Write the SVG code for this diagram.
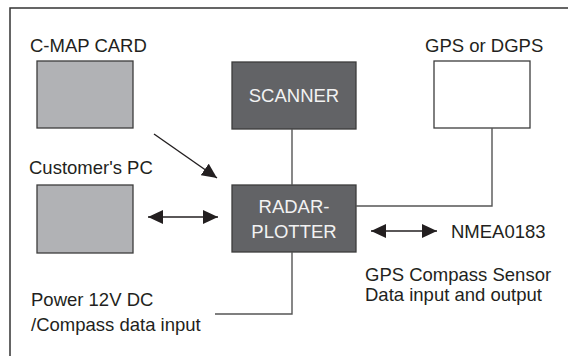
<svg xmlns="http://www.w3.org/2000/svg" width="568" height="356" viewBox="0 0 568 356">
<style>
text{font-family:"Liberation Sans",Arial,sans-serif;font-size:18.5px;fill:#231f20}
.lt{fill:#b1b2b5;stroke:#3c3c3c;stroke-width:1.3}
.dk{fill:#626366;stroke:#3c3c3c;stroke-width:1.3}
.wh{fill:#ffffff;stroke:#3c3c3c;stroke-width:1.3}
.wt{fill:#f2f2f2;text-anchor:middle}
.ln{fill:none;stroke:#555;stroke-width:1.4}
.ar{fill:none;stroke:#231f20;stroke-width:1.4}
</style>
<defs>
<marker id="ah" viewBox="0 0 15 14" refX="15" refY="7" markerWidth="15" markerHeight="14" markerUnits="userSpaceOnUse" orient="auto-start-reverse">
<path d="M0,0 L15,7 L0,14 Z" fill="#231f20"/>
</marker>
</defs>
<g id="frame"><path d="M10,356 V8 H568" fill="none" stroke="#333" stroke-width="1.5"/></g>
<g id="cmap"><rect class="lt" x="37" y="61" width="96" height="67"/><text x="30" y="52">C-MAP CARD</text></g>
<g id="scanner"><rect class="dk" x="232" y="62" width="124" height="67"/><text class="wt" x="294" y="102">SCANNER</text></g>
<g id="gps"><rect class="wh" x="434" y="61" width="96" height="67"/><text x="425" y="52">GPS or DGPS</text></g>
<g id="pc"><rect class="lt" x="37" y="185" width="96" height="68"/><text x="29" y="174">Customer's PC</text></g>
<g id="radar"><rect class="dk" x="232" y="185" width="124" height="67"/><text class="wt" x="294" y="213">RADAR-</text><text class="wt" x="294" y="238">PLOTTER</text></g>
<g id="nmea"><text x="451" y="238">NMEA0183</text></g>
<g id="sensor"><text x="365" y="281">GPS Compass Sensor</text><text x="365" y="301">Data input and output</text></g>
<g id="power"><text x="31" y="306">Power 12V DC</text><text x="31" y="331">/Compass data input</text></g>
<g id="connectors">
<path class="ln" d="M292,129 V185"/>
<path class="ln" d="M492,128 V206 H356"/>
<path class="ln" d="M292,252 V314 H215"/>
<path class="ar" d="M154,134 L217,178" marker-end="url(#ah)"/>
<path class="ar" d="M148,217 H218" marker-start="url(#ah)" marker-end="url(#ah)"/>
<path class="ar" d="M371,231 H437" marker-start="url(#ah)" marker-end="url(#ah)"/>
</g>
</svg>
